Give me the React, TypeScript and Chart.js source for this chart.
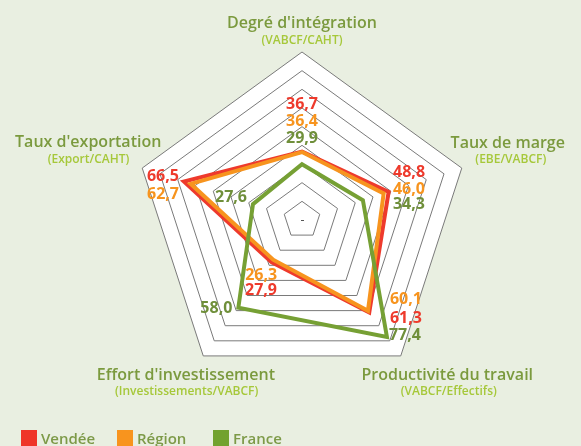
import { useEffect, useRef } from "react";
import { Chart, registerables } from "chart.js";

Chart.register(...registerables);

// ---------- data ----------
const axisTitles = [
  "Degré d'intégration",
  "Taux de marge",
  "Productivité du travail",
  "Effort d'investissement",
  "Taux d'exportation",
];
const axisSubtitles = [
  "(VABCF/CAHT)",
  "(EBE/VABCF)",
  "(VABCF/Effectifs)",
  "(Investissements/VABCF)",
  "(Export/CAHT)",
];
const seriesNames = ["Vendée", "Région", "France"];
const vendee = [36.7, 48.8, 61.3, 27.9, 66.5];
const region = [36.4, 46.0, 60.1, 26.3, 62.7];
const france = [29.9, 34.3, 77.4, 58.0, 27.6];
const scaleMin = 0;
const scaleMax = 90;
const scaleStep = 10;

// ---------- styles ----------
const BG = "#E9EFE1";
const GRID = "#7a7a7a";
const lineColors = ["#EE3A2C", "#F7941E", "#76A034"];
const labelColors = ["#EE3A2C", "#F7941E", "#6F8F3A"];
const legendColors = ["#EF3529", "#F8941E", "#72A22F"];
const TITLE_COLOR = "#7B9A3E";
const SUB_COLOR = "#A6C83A";
const LEGEND_TEXT = "#7D9A48";
const FONT = "'Open Sans', 'DejaVu Sans', sans-serif";

// label centre offsets from each point, [series][axis] -> [dx, dy]
const valueLabelOffsets: number[][][] = [
  [[0, -48], [20.4, -20.9], [36.7, 4.4], [-10.4, 27], [-21, -6.2]],
  [[0, -31.5], [25.3, -5.5], [38, -12.8], [-12, 14.3], [-27.7, 9.2]],
  [[0, -26.7], [46, 3.3], [18, -3], [-22, 0], [-22, -8]],
];
// axis title baseline offsets from outer vertex: [dx, dy, subDx, subDy]
const titleOffsets = [
  [0, -24.5, 0, -8],
  [46, -20, 49, -5],
  [46.5, 23.8, 48, 38.6],
  [-17.3, 23.8, -16.6, 38.6],
  [-54, -20.6, -53.7, -5],
];

const fmt = (v: number) => v.toFixed(1).replace(".", ",");

const overlayPlugin = {
  id: "overlay",
  beforeDraw(chart: any) {
    const ctx = chart.ctx;
    const s = chart.scales.r;
    ctx.save();
    ctx.fillStyle = BG;
    ctx.fillRect(0, 0, chart.width, chart.height);
    ctx.beginPath();
    for (let i = 0; i < axisTitles.length; i++) {
      const p = s.getPointPosition(i, s.drawingArea);
      if (i === 0) ctx.moveTo(p.x, p.y);
      else ctx.lineTo(p.x, p.y);
    }
    ctx.closePath();
    ctx.fillStyle = "#ffffff";
    ctx.fill();
    ctx.restore();
  },
  afterDraw(chart: any) {
    const ctx = chart.ctx;
    const s = chart.scales.r;
    ctx.save();
    // centre mark
    ctx.fillStyle = "#555";
    ctx.fillRect(s.xCenter - 1, s.yCenter, 3, 1);

    // value labels
    ctx.font = `700 16px ${FONT}`;
    ctx.textAlign = "center";
    ctx.textBaseline = "alphabetic";
    chart.data.datasets.forEach((ds: any, di: number) => {
      ds.data.forEach((v: number, ai: number) => {
        const p = s.getPointPosition(ai, s.getDistanceFromCenterForValue(v));
        const off = valueLabelOffsets[di][ai];
        ctx.fillStyle = labelColors[di];
        ctx.fillText(fmt(v), p.x + off[0], p.y + off[1] + 5.7);
      });
    });

    // axis titles
    axisTitles.forEach((t, i) => {
      const p = s.getPointPosition(i, s.drawingArea);
      const o = titleOffsets[i];
      ctx.font = `600 16px ${FONT}`;
      ctx.fillStyle = TITLE_COLOR;
      ctx.fillText(t, p.x + o[0], p.y + o[1]);
      ctx.font = `600 12px ${FONT}`;
      ctx.fillStyle = SUB_COLOR;
      ctx.fillText(axisSubtitles[i], p.x + o[2], p.y + o[3]);
    });

    // legend
    ctx.textAlign = "left";
    ctx.font = `600 15px ${FONT}`;
    const legendX = [21, 117, 213];
    seriesNames.forEach((n, i) => {
      ctx.fillStyle = legendColors[i];
      ctx.fillRect(legendX[i], 430, 16, 16);
      ctx.fillStyle = LEGEND_TEXT;
      ctx.fillText(n, legendX[i] + 20, 444);
    });
    ctx.restore();
  },
};

export default function App() {
  const ref = useRef<HTMLCanvasElement | null>(null);
  useEffect(() => {
    if (!ref.current) return;
    const series = [vendee, region, france];
    const chart = new Chart(ref.current, {
      type: "radar",
      data: {
        labels: axisTitles,
        datasets: series.map((d, i) => ({
          label: seriesNames[i],
          data: d,
          borderColor: lineColors[i],
          backgroundColor: "transparent",
          borderWidth: 4,
          fill: false,
          pointRadius: 0,
          pointHoverRadius: 0,
          borderJoinStyle: "miter" as const,
          tension: 0,
          order: 3 - i,
        })),
      },
      options: {
        animation: false,
        responsive: false,
        devicePixelRatio: 1,
        layout: { padding: { left: 102, right: 79, top: 52, bottom: 58 } },
        plugins: { legend: { display: false }, tooltip: { enabled: false } },
        scales: {
          r: {
            min: scaleMin,
            max: scaleMax,
            ticks: { display: false, stepSize: scaleStep },
            grid: { color: GRID, lineWidth: 1, circular: false },
            angleLines: { display: false },
            pointLabels: { display: false },
          },
        },
      },
      plugins: [overlayPlugin],
    });
    return () => chart.destroy();
  }, []);
  return (
    <div style={{ position: "fixed", left: 0, top: 0, width: 581, height: 446, background: BG }}>
      <canvas ref={ref} width={581} height={446} style={{ display: "block" }} />
    </div>
  );
}
